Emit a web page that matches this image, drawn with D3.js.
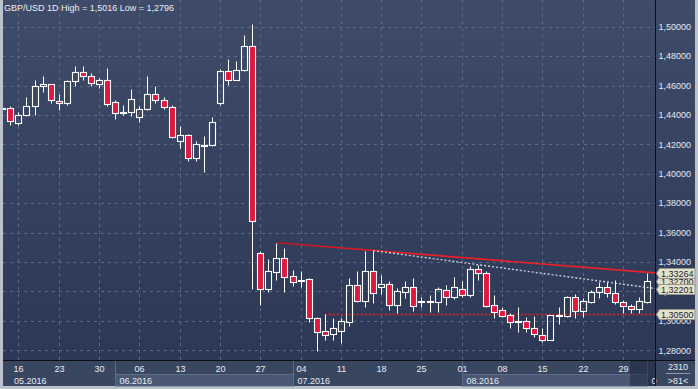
<!DOCTYPE html>
<html lang="en">
<head>
<meta charset="utf-8">
<title>GBP/USD 1D</title>
<script src="https://cdn.jsdelivr.net/npm/d3@7/dist/d3.min.js"></script>
<style>
  body { margin: 0; background: #bcc2cc; }
  svg { display: block; font-family: "Liberation Sans", Arial, sans-serif; }
</style>
</head>
<body>
<script>
// trading days shown (May 12 .. Sep 1, 2016)
var dates = [
  "2016-05-12","2016-05-13","2016-05-16","2016-05-17","2016-05-18","2016-05-19","2016-05-20",
  "2016-05-23","2016-05-24","2016-05-25","2016-05-26","2016-05-27","2016-05-30","2016-05-31",
  "2016-06-01","2016-06-02","2016-06-03","2016-06-06","2016-06-07","2016-06-08","2016-06-09","2016-06-10",
  "2016-06-13","2016-06-14","2016-06-15","2016-06-16","2016-06-17","2016-06-20","2016-06-21","2016-06-22",
  "2016-06-23","2016-06-24","2016-06-27","2016-06-28","2016-06-29","2016-06-30",
  "2016-07-01","2016-07-04","2016-07-05","2016-07-06","2016-07-07","2016-07-08","2016-07-11","2016-07-12",
  "2016-07-13","2016-07-14","2016-07-15","2016-07-18","2016-07-19","2016-07-20","2016-07-21","2016-07-22",
  "2016-07-25","2016-07-26","2016-07-27","2016-07-28","2016-07-29",
  "2016-08-01","2016-08-02","2016-08-03","2016-08-04","2016-08-05","2016-08-08","2016-08-09","2016-08-10",
  "2016-08-11","2016-08-12","2016-08-15","2016-08-16","2016-08-17","2016-08-18","2016-08-19","2016-08-22",
  "2016-08-23","2016-08-24","2016-08-25","2016-08-26","2016-08-29","2016-08-30","2016-08-31",
  "2016-09-01"
];
var opens = [
  1.4447,1.4447,1.4345,1.4397,1.4458,1.4597,1.4610,1.4495,1.4478,1.4631,
  1.4692,1.4667,1.4610,1.4637,1.4485,1.4413,1.4420,1.4383,1.4440,1.4544,
  1.4501,1.4454,1.4222,1.4263,1.4104,1.4195,1.4194,1.4478,1.4699,1.4641,
  1.4703,1.4869,1.3463,1.3220,1.3335,1.3429,1.3303,1.3281,1.3284,1.3018,
  1.2930,1.2910,1.2934,1.2995,1.3243,1.3138,1.3338,1.3233,1.3250,1.3107,
  1.3199,1.3229,1.3138,1.3134,1.3129,1.3209,1.3161,1.3216,1.3173,1.3352,
  1.3324,1.3107,1.3073,1.3039,1.3002,1.3002,1.2950,1.2903,1.2873,1.3039,
  1.3034,1.3163,1.3070,1.3131,1.3193,1.3229,1.3190,1.3129,1.3100,1.3080,
  1.3131
];
var highs = [
  1.4463,1.4458,1.4417,1.4522,1.4635,1.4662,1.4612,1.4544,1.4639,1.4730,
  1.4735,1.4685,1.4651,1.4721,1.4499,1.4469,1.4578,1.4458,1.4662,1.4594,
  1.4522,1.4469,1.4327,1.4272,1.4220,1.4254,1.4388,1.4714,1.4782,1.4769,
  1.4946,1.5016,1.3476,1.3422,1.3531,1.3497,1.3347,1.3342,1.3290,1.3027,
  1.3048,1.3018,1.3018,1.3290,1.3340,1.3478,1.3478,1.3313,1.3274,1.3222,
  1.3272,1.3290,1.3165,1.3177,1.3229,1.3245,1.3299,1.3272,1.3374,1.3381,
  1.3342,1.3177,1.3093,1.3056,1.3093,1.3029,1.3034,1.2950,1.3040,1.3093,
  1.3170,1.3184,1.3154,1.3211,1.3267,1.3267,1.3279,1.3143,1.3116,1.3159,
  1.3324
];
var lows = [
  1.4429,1.4333,1.4329,1.4395,1.4397,1.4553,1.4481,1.4435,1.4471,1.4594,
  1.4635,1.4594,1.4580,1.4458,1.4374,1.4397,1.4390,1.4349,1.4435,1.4481,
  1.4440,1.4245,1.4172,1.4084,1.4084,1.4009,1.4190,1.4471,1.4605,1.4635,
  1.4701,1.3220,1.3109,1.3199,1.3281,1.3199,1.3240,1.3233,1.2995,1.2796,
  1.2871,1.2871,1.2848,1.2968,1.3131,1.3097,1.3124,1.3182,1.3075,1.3056,
  1.3154,1.3070,1.3093,1.3063,1.3063,1.3109,1.3148,1.3165,1.3165,1.3279,
  1.3097,1.3018,1.3025,1.2950,1.2927,1.2927,1.2893,1.2855,1.2872,1.2978,
  1.3029,1.3022,1.3029,1.3124,1.3154,1.3165,1.3116,1.3056,1.3056,1.3056,
  1.3124
];
var closes = [
  1.4447,1.4356,1.4401,1.4463,1.4599,1.4612,1.4503,1.4481,1.4631,1.4692,
  1.4665,1.4617,1.4639,1.4474,1.4413,1.4420,1.4508,1.4440,1.4544,1.4501,
  1.4454,1.4250,1.4263,1.4104,1.4202,1.4199,1.4352,1.4699,1.4641,1.4705,
  1.4869,1.3678,1.3220,1.3338,1.3429,1.3301,1.3263,1.3281,1.3018,1.2927,
  1.2903,1.2950,1.3000,1.3243,1.3138,1.3338,1.3188,1.3252,1.3107,1.3202,
  1.3229,1.3100,1.3138,1.3134,1.3216,1.3159,1.3229,1.3175,1.3352,1.3324,
  1.3104,1.3063,1.3036,1.2995,1.3002,1.2950,1.2914,1.2873,1.3039,1.3039,
  1.3163,1.3070,1.3136,1.3197,1.3231,1.3188,1.3131,1.3100,1.3080,1.3134,
  1.3270
];
var yTicks = [1.28, 1.30, 1.32, 1.34, 1.36, 1.38, 1.40, 1.42, 1.44, 1.46, 1.48, 1.50];

// drawn objects: trend line, dotted channel line, support level
var resistStart = { date: "2016-06-29", price: 1.3531 }, resistEnd = 1.33264;
var channelStart = { date: "2016-07-15", price: 1.3478 }, channelEnd = 1.32201;
var supportStart = "2016-07-07", supportLevel = 1.30500;
var barCount = 2310;

var W = 698, H = 389;
var plotLeft = 3, plotRight = 655, plotTop = 0, plotBottom = 360, dateBottom = 386, axisRight = 695;

var parse = d3.utcParse("%Y-%m-%d");
var data = dates.map(function(d, i) {
  return { date: d, t: parse(d), o: opens[i], h: highs[i], l: lows[i], c: closes[i] };
});

var svg = d3.select("body").append("svg").attr("width", W).attr("height", H);

var defs = svg.append("defs");
var grad = defs.append("linearGradient").attr("id", "bg").attr("x1", 0).attr("y1", 0).attr("x2", 0).attr("y2", 1);
grad.append("stop").attr("offset", "0%").attr("stop-color", "#3f4c69");
grad.append("stop").attr("offset", "100%").attr("stop-color", "#2c3855");
defs.append("clipPath").attr("id", "plotclip").append("rect")
  .attr("x", plotLeft).attr("y", plotTop).attr("width", plotRight - plotLeft).attr("height", plotBottom - plotTop);

var x = d3.scalePoint().domain(dates).range([2.3, 647.2]);
var y = d3.scaleLinear().domain([1.28, 1.50]).range([350.3, 26.7]);
function px(d) { return Math.round(x(d)) + 0.5; }
function py(v) { return Math.round(y(v)) + 0.5; }
var fmt5 = d3.format(".5f"), fmt4 = d3.format(".4f");
function comma(s) { return s.replace(".", ","); }

var redGrad = defs.append("linearGradient").attr("id", "redline")
  .attr("gradientUnits", "userSpaceOnUse")
  .attr("x1", x(resistStart.date)).attr("x2", plotRight).attr("y1", 0).attr("y2", 0);
redGrad.append("stop").attr("offset", "0%").attr("stop-color", "#c0141e");
redGrad.append("stop").attr("offset", "35%").attr("stop-color", "#f41c22");
redGrad.append("stop").attr("offset", "100%").attr("stop-color", "#e8222a");

// backgrounds
svg.append("rect").attr("x", plotLeft).attr("y", 0).attr("width", axisRight - plotLeft).attr("height", plotBottom)
  .attr("fill", "url(#bg)");
svg.append("rect").attr("x", plotLeft).attr("y", plotBottom).attr("width", axisRight - plotLeft).attr("height", dateBottom - plotBottom)
  .attr("fill", "#394660");

var plot = svg.append("g").attr("clip-path", "url(#plotclip)");

// grid
var mondays = data.filter(function(d) { return d.t.getUTCDay() === 1; });
plot.selectAll("line.hg").data(yTicks).enter().append("line")
  .attr("x1", plotLeft).attr("x2", plotRight)
  .attr("y1", function(d) { return py(d); }).attr("y2", function(d) { return py(d); })
  .attr("stroke", "#5a6988").attr("stroke-dasharray", "3,4");
plot.selectAll("line.vg").data(mondays).enter().append("line")
  .attr("x1", function(d) { return px(d.date); }).attr("x2", function(d) { return px(d.date); })
  .attr("y1", plotTop).attr("y2", plotBottom)
  .attr("stroke", "#5a6988").attr("stroke-dasharray", "3,4");

// title
svg.append("text").attr("x", 4).attr("y", 10.5)
  .attr("font-size", "9px").attr("fill", "#e8edf5")
  .text("GBP/USD 1D High = " + comma(fmt4(d3.max(highs))) + " Low = " + comma(fmt4(d3.min(lows))));

// drawn lines
plot.append("line")
  .attr("x1", x(resistStart.date)).attr("y1", y(resistStart.price))
  .attr("x2", plotRight).attr("y2", y(resistEnd))
  .attr("stroke", "url(#redline)").attr("stroke-width", 1.6);
plot.append("line")
  .attr("x1", x(channelStart.date)).attr("y1", y(channelStart.price))
  .attr("x2", plotRight).attr("y2", y(channelEnd))
  .attr("stroke", "#c9ced8").attr("stroke-width", 1.4).attr("stroke-dasharray", "2,2");
plot.append("line")
  .attr("x1", x(supportStart)).attr("y1", py(supportLevel))
  .attr("x2", plotRight).attr("y2", py(supportLevel))
  .attr("stroke", "#f01c24").attr("stroke-width", 1.6).attr("stroke-dasharray", "2,2");

// candles
var candles = plot.selectAll("g.candle").data(data).enter().append("g");
candles.append("line")
  .attr("x1", function(d) { return px(d.date); }).attr("x2", function(d) { return px(d.date); })
  .attr("y1", function(d) { return py(d.h); })
  .attr("y2", function(d) { return py(Math.max(d.o, d.c)); })
  .attr("stroke", "#ffffff");
candles.append("line")
  .attr("x1", function(d) { return px(d.date); }).attr("x2", function(d) { return px(d.date); })
  .attr("y1", function(d) { return py(Math.min(d.o, d.c)); })
  .attr("y2", function(d) { return py(d.l); })
  .attr("stroke", "#ffffff");
candles.append("rect")
  .attr("x", function(d) { return px(d.date) - 3; })
  .attr("width", 6)
  .attr("y", function(d) { return py(Math.max(d.o, d.c)); })
  .attr("height", function(d) { return Math.max(1, py(Math.min(d.o, d.c)) - py(Math.max(d.o, d.c))); })
  .attr("fill", function(d) { return d.c < d.o ? "#e1183e" : "none"; })
  .attr("stroke", "#ffffff").attr("stroke-width", 1.1);

// date axis: month bands
var months = d3.groups(data, function(d) { return d.date.slice(0, 7); }).map(function(g, i) {
  return { key: g[0], first: g[1][0], idx: i };
});
months.forEach(function(m, i) {
  var x0 = px(m.first.date);
  var x1 = i + 1 < months.length ? px(months[i + 1].first.date) : plotRight;
  if (m.idx % 2 === 1) {
    svg.append("rect").attr("x", x0).attr("y", 374.5).attr("width", x1 - x0).attr("height", dateBottom - 374.5)
      .attr("fill", "#4a5873").attr("stroke", "#5d6b87");
  }
  if (i > 0) {
    svg.append("line").attr("x1", x0).attr("x2", x0).attr("y1", plotBottom).attr("y2", dateBottom)
      .attr("stroke", "#5d6b87");
  }
});
// current-period shade
svg.append("rect").attr("x", 630).attr("y", plotBottom).attr("width", plotRight - 630).attr("height", dateBottom - plotBottom)
  .attr("fill", "#1e2940").attr("opacity", 0.55);

svg.selectAll("text.day").data(mondays).enter().append("text")
  .attr("x", function(d) { return px(d.date); }).attr("y", 371.5)
  .attr("text-anchor", "middle").attr("font-size", "9px").attr("fill", "#e6ebf3")
  .text(function(d) { return d3.utcFormat("%d")(d.t); });
svg.selectAll("text.month").data(months).enter().append("text")
  .attr("x", function(d) { return Math.max(14, px(d.first.date) + 4); }).attr("y", 383.5)
  .attr("font-size", "9px").attr("fill", "#e6ebf3")
  .text(function(d) { return d3.utcFormat("%m.%Y")(d.first.t); })
  .each(function() {
    // a label running into the price axis is cut at the axis edge
    var t = d3.select(this), s = t.text(), x0 = +t.attr("x");
    while (s.length > 1 && x0 + this.getComputedTextLength() > plotRight) {
      s = s.slice(0, -1);
      t.text(s);
    }
  });

// right axis
svg.selectAll("text.yt").data(yTicks).enter().append("text")
  .attr("x", 658.5).attr("y", function(d) { return y(d) + 3.2; })
  .attr("font-size", "9px").attr("fill", "#e2e8f2")
  .text(function(d) { return comma(fmt5(d)); });

// price labels on axis (last close first, mostly covered)
var priceLabels = [closes[closes.length - 1], resistEnd, channelEnd, supportLevel];
var lab = svg.selectAll("g.pl").data(priceLabels).enter().append("g")
  .attr("transform", function(d) { return "translate(0," + (Math.round(y(d)) + 0.5) + ")"; });
lab.append("path")
  .attr("d", "M656.5,0 L659.5,-5 L695,-5 L695,5 L659.5,5 Z")
  .attr("fill", "#e4e1ca").attr("stroke", "#98968a");
lab.append("text").attr("x", 661).attr("y", 3.3)
  .attr("font-size", "9px").attr("fill", "#1b2438")
  .text(function(d) { return comma(fmt5(d)); });

// frame lines
svg.append("line").attr("x1", plotRight + 0.5).attr("x2", plotRight + 0.5).attr("y1", 0).attr("y2", dateBottom)
  .attr("stroke", "#0c0f16");
svg.append("line").attr("x1", plotLeft).attr("x2", axisRight).attr("y1", plotBottom + 0.5).attr("y2", plotBottom + 0.5)
  .attr("stroke", "#0c0f16");

// bar counter
svg.append("text").attr("x", 678).attr("y", 369.5).attr("text-anchor", "middle")
  .attr("font-size", "9px").attr("fill", "#e6ebf3").text(barCount);
svg.append("line").attr("x1", 666).attr("x2", 690).attr("y1", 373.5).attr("y2", 373.5)
  .attr("stroke", "#8c97ab");
svg.append("text").attr("x", 678).attr("y", 383.5).attr("text-anchor", "middle")
  .attr("font-size", "9px").attr("fill", "#e6ebf3").text(">" + data.length + "<");
</script>
</body>
</html>
